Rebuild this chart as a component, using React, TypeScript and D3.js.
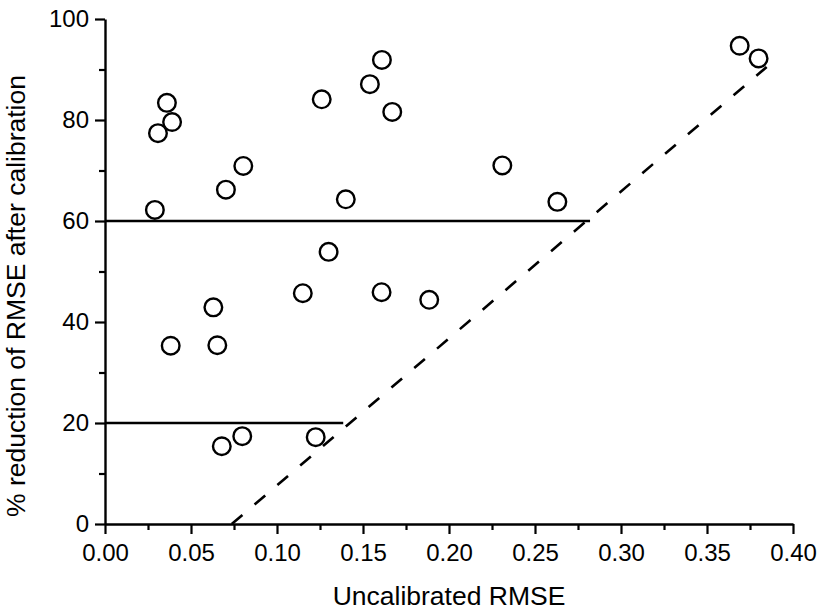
import React, { useEffect, useRef } from 'react';
import * as d3 from 'd3';

// uncalibrated RMSE vs % reduction after calibration
const rmse = [0.0308, 0.0360, 0.0390, 0.0290, 0.0703, 0.0804, 0.0382, 0.0630, 0.0653, 0.0679, 0.0798,
  0.1225, 0.1150, 0.1300, 0.1400, 0.1260, 0.1540, 0.1610, 0.1670, 0.1608, 0.1885, 0.2310, 0.2630, 0.3690, 0.3800];
const reduction = [77.4, 83.4, 79.6, 62.2, 66.2, 70.9, 35.3, 42.9, 35.4, 15.4, 17.4,
  17.2, 45.7, 53.9, 64.3, 84.1, 87.1, 91.9, 81.6, 45.9, 44.4, 71.0, 63.8, 94.7, 92.2];

// reference lines: [x0, y0, x1, y1]
const hLines = [[0, 60, 0.282, 60], [0, 20, 0.1385, 20]];
const diagLine = [0.0737, 0, 0.3847, 90.5];

const xTicks = [0, 0.05, 0.1, 0.15, 0.2, 0.25, 0.3, 0.35, 0.4];
const xMinor = [0.025, 0.075, 0.125, 0.175, 0.225, 0.275, 0.325, 0.375];
const yTicks = [0, 20, 40, 60, 80, 100];
const yMinor = [10, 30, 50, 70, 90];

const font = '"Liberation Sans", Arial, sans-serif';

export default function App() {
  const ref = useRef<SVGSVGElement>(null);

  useEffect(() => {
    const svg = d3.select(ref.current);
    svg.selectAll('*').remove();

    const x = d3.scaleLinear().domain([0, 0.4]).range([105, 793]);
    const y = d3.scaleLinear().domain([0, 100]).range([524, 19]);

    // minor ticks first
    svg.append('g')
      .attr('transform', 'translate(0,524)')
      .call(d3.axisBottom(x).tickValues(xMinor).tickSize(6).tickFormat(() => '').tickSizeOuter(0))
      .call(g => g.select('.domain').remove());
    svg.append('g')
      .attr('transform', 'translate(105,0)')
      .call(d3.axisLeft(y).tickValues(yMinor).tickSize(6).tickFormat(() => '').tickSizeOuter(0))
      .call(g => g.select('.domain').remove());

    const xAxis = svg.append('g')
      .attr('transform', 'translate(0,524)')
      .call(d3.axisBottom(x).tickValues(xTicks).tickSize(10).tickPadding(10).tickSizeOuter(0)
        .tickFormat(d => d3.format('.2f')(d as number)));
    const yAxis = svg.append('g')
      .attr('transform', 'translate(105,0)')
      .call(d3.axisLeft(y).tickValues(yTicks).tickSize(10).tickPadding(6).tickSizeOuter(0));

    [xAxis, yAxis].forEach(g => {
      g.selectAll('text').attr('font-family', font).attr('font-size', 24).attr('fill', '#000');
      g.select('.domain').attr('stroke-width', 2.4);
    });
    svg.selectAll('.tick line').attr('stroke', '#000').attr('stroke-width', 2.2);

    // reference lines
    svg.append('g').selectAll('line')
      .data(hLines)
      .enter()
      .append('line')
      .attr('x1', d => x(d[0])).attr('y1', d => y(d[1]))
      .attr('x2', d => x(d[2])).attr('y2', d => y(d[3]))
      .attr('stroke', '#000').attr('stroke-width', 2.4);

    svg.append('line')
      .attr('x1', x(diagLine[0])).attr('y1', y(diagLine[1]))
      .attr('x2', x(diagLine[2])).attr('y2', y(diagLine[3]))
      .attr('stroke', '#000').attr('stroke-width', 2.6)
      .attr('stroke-dasharray', '14 16');

    // points
    svg.append('g').selectAll('circle')
      .data(rmse.map((v, i) => [v, reduction[i]]))
      .enter()
      .append('circle')
      .attr('cx', d => x(d[0]))
      .attr('cy', d => y(d[1]))
      .attr('r', 8.8)
      .attr('fill', 'none')
      .attr('stroke', '#000')
      .attr('stroke-width', 2.4);

    // titles
    svg.append('text')
      .attr('x', 449).attr('y', 605)
      .attr('text-anchor', 'middle')
      .attr('font-family', font).attr('font-size', 26.5)
      .text('Uncalibrated RMSE');
    svg.append('text')
      .attr('transform', 'translate(25,296) rotate(-90)')
      .attr('text-anchor', 'middle')
      .attr('font-family', font).attr('font-size', 26.5)
      .text('% reduction of RMSE after calibration');
  }, []);

  return (
    <svg ref={ref} width={817} height={611}
      style={{ position: 'absolute', left: 0, top: 0, background: '#fff' }} />
  );
}
